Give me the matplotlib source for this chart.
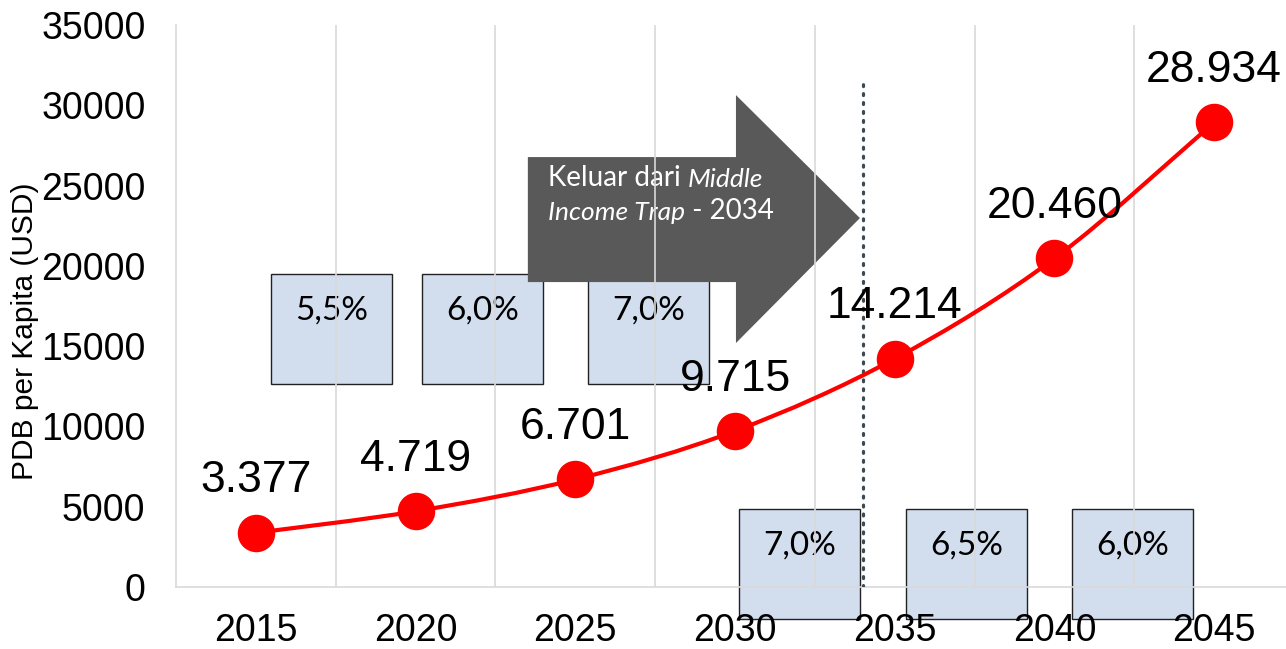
import numpy as np
import matplotlib.pyplot as plt
from matplotlib.path import Path
from matplotlib.patches import PathPatch, Rectangle, Polygon

years = [2015, 2020, 2025, 2030, 2035, 2040, 2045]
gdp = [3377, 4719, 6701, 9715, 14214, 20460, 28934]
gdp_labels = ['3.377', '4.719', '6.701', '9.715', '14.214', '20.460', '28.934']

growth_top = ['5,5%', '6,0%', '7,0%']
growth_bottom = ['7,0%', '6,5%', '6,0%']
exit_year = 2034

plt.rcParams['font.family'] = ['Liberation Sans', 'DejaVu Sans']
humanist = ['Lato', 'DejaVu Sans']

fig = plt.figure(figsize=(12.86, 6.49), dpi=100)
ax = fig.add_axes([176/1286, 62/649, 1118/1286, 562/649])

x = np.arange(len(years))
ax.set_xlim(-0.5, len(years) - 0.5)
ax.set_ylim(0, 35000)
ax.set_yticks(np.arange(0, 35001, 5000))
ax.set_xticks(x)
ax.set_xticklabels([str(y) for y in years])
ax.set_xticks(x[:-1] + 0.5, minor=True)
ax.tick_params(axis='both', which='both', length=0, labelsize=27)
ax.tick_params(axis='y', pad=22)
ax.tick_params(axis='x', pad=19)
ax.set_axisbelow(False)
ax.grid(which='minor', axis='x', color='#d9d9d9', lw=1.2)
for s in ['top', 'right']:
    ax.spines[s].set_visible(False)
for s in ['left', 'bottom']:
    ax.spines[s].set_color('#d9d9d9')
    ax.spines[s].set_linewidth(1.2)
    ax.spines[s].set_zorder(2.5)

fig.text(25/1286, 1 - 331/649, 'PDB per Kapita (USD)', rotation=90,
         ha='center', va='center', fontsize=21.5)

# growth boxes (behind the grid)
box_w, box_h = 0.76, 6850
top_x = [0.094, 1.04, 2.079]
bot_x = [3.024, 4.07, 5.11]
for bx, by, labs in [(top_x, 12640, growth_top), (bot_x, -1990, growth_bottom)]:
    for xi, lab in zip(bx, labs):
        ax.add_patch(Rectangle((xi, by), box_w, box_h, fc='#d2ddee', ec='#222222',
                               lw=1.0, zorder=1, clip_on=False))
        ax.text(xi + box_w/2, by + box_h - 2250, lab, ha='center', va='center',
                fontsize=24, family=humanist, zorder=1.5)

# big arrow
xe = (exit_year - years[0]) / 5
arrow = [(1.703, 18990), (3.006, 18990), (3.006, 15193), (xe - 0.018, 22976),
         (3.006, 30635), (3.006, 26775), (1.703, 26775)]
ax.add_patch(Polygon(arrow, closed=True, fc='#595959', ec='none', zorder=1))
t1 = ax.text(1.828, 24950, 'Keluar dari ', color='white', fontsize=20,
             family=humanist, va='baseline', zorder=1.5)
ax.annotate('Middle', xy=(1, 0), xycoords=t1, color='white', fontsize=19,
            family=humanist, style='italic', va='bottom', zorder=1.5)
t2 = ax.text(1.828, 22850, 'Income Trap', color='white', fontsize=19,
             family=humanist, style='italic', va='baseline', zorder=1.5)
ax.annotate(' - 2034', xy=(1, 0), xycoords=t2, color='white', fontsize=20,
            family=humanist, va='bottom', zorder=1.5)

# dotted exit line
ax.plot([xe, xe], [0, 31500], ls=(0, (0.6, 2.2)), lw=2.3, color='#3d4a52',
        dash_capstyle='round', zorder=2.6)

# smoothed line through the points (Bezier, Excel style)
pts = np.column_stack([x, gdp]).astype(float)
verts = [tuple(pts[0])]
codes = [Path.MOVETO]
n = len(pts)
for i in range(n - 1):
    p0 = pts[max(i - 1, 0)]
    p1 = pts[i]
    p2 = pts[i + 1]
    p3 = pts[min(i + 2, n - 1)]
    c1 = p1 + (p2 - p0) / 6
    c2 = p2 - (p3 - p1) / 6
    verts += [tuple(c1), tuple(c2), tuple(p2)]
    codes += [Path.CURVE4] * 3
ax.add_patch(PathPatch(Path(verts, codes), fc='none', ec='red', lw=3, zorder=3))
ax.plot(x, gdp, 'o', color='red', ms=26, zorder=4)

for xi, yi, lab in zip(x, gdp, gdp_labels):
    ax.annotate(lab, (xi, yi), xytext=(0, 52), textcoords='offset pixels',
                ha='center', va='center', fontsize=32, zorder=5)

fig.savefig('out.png', dpi=100)
